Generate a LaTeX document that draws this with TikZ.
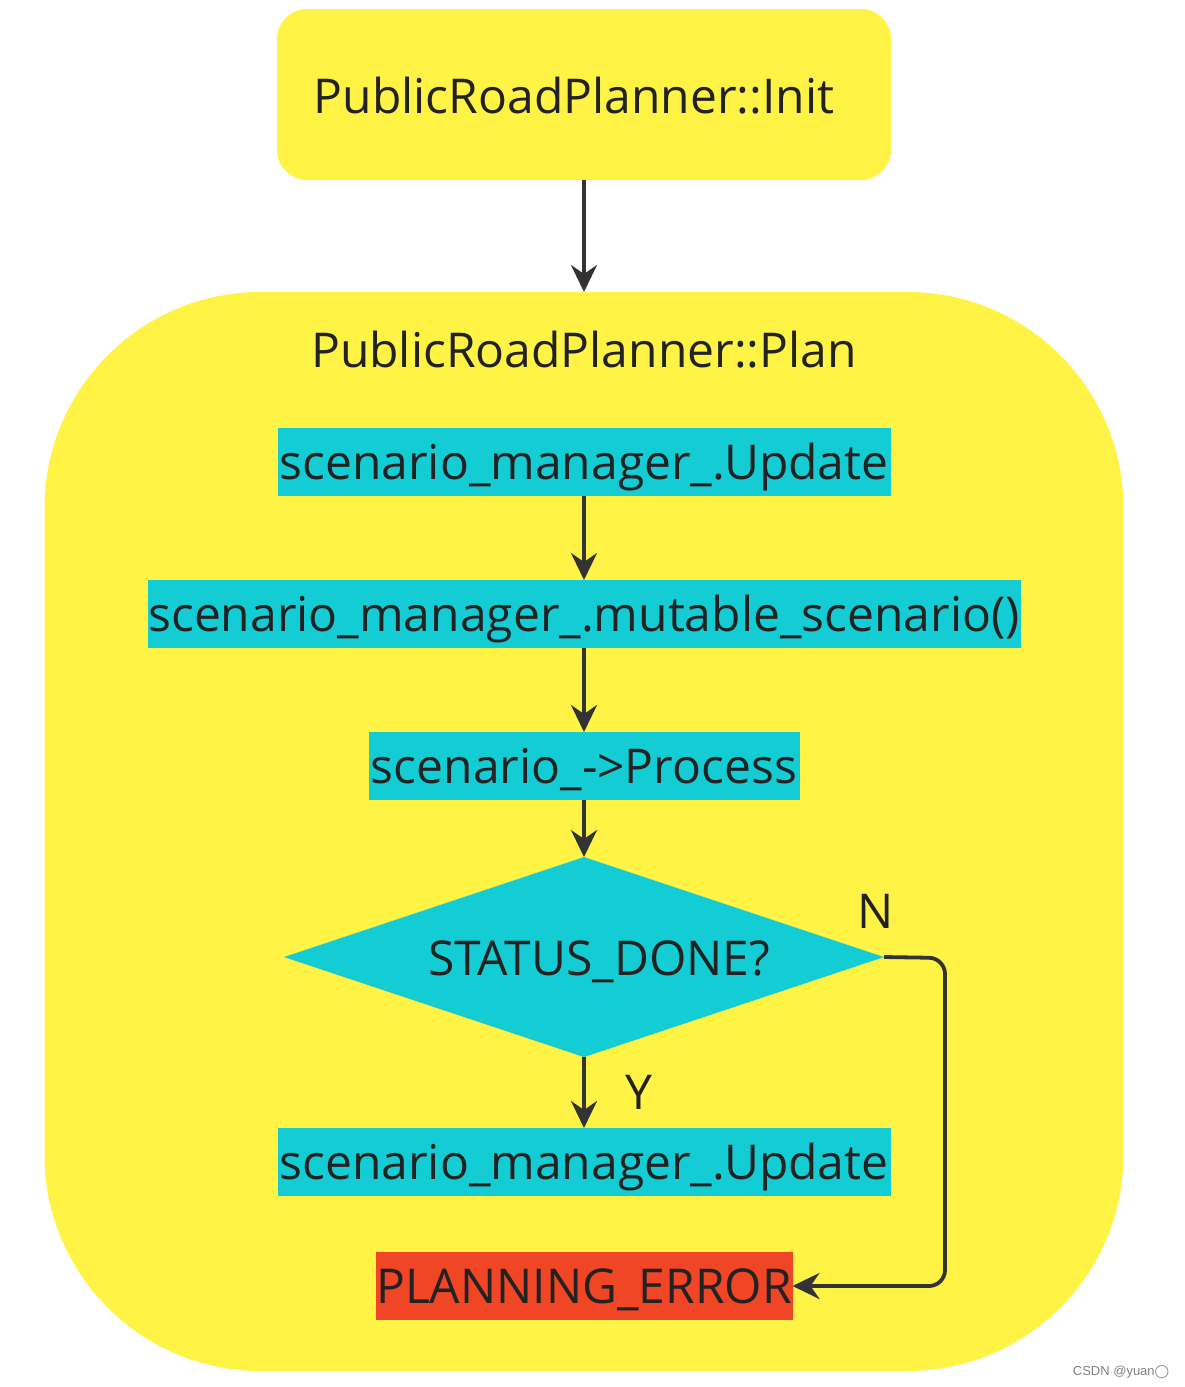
\documentclass[tikz,border=0pt]{standalone}
\usepackage{fontspec}
\setmainfont{Open Sans}
\newfontfamily\markfont{Liberation Sans}
\newfontfamily\symfont{DejaVu Sans}
\usetikzlibrary{shapes.geometric,arrows.meta}
\definecolor{planyellow}{RGB}{255,243,69}
\definecolor{callcyan}{RGB}{20,205,212}
\definecolor{errred}{RGB}{240,70,38}
\definecolor{inkgray}{RGB}{34,34,34}
\definecolor{linegray}{RGB}{51,51,51}
\tikzset{every picture/.style={line width=0.75pt}}

\begin{document}
\begin{tikzpicture}[x=0.5pt,y=0.5pt,yscale=-1,xscale=1,
  txt/.style={text=inkgray,font=\fontsize{24}{28}\selectfont,inner sep=0pt,outer sep=0pt},
  callbox/.style={txt,fill=callcyan,minimum height=34pt,text height=17pt,text depth=0pt},
  flow/.style={draw=linegray,line width=1.9pt,-{Stealth[length=13.5pt,width=13pt,inset=4.5pt]}}]
\useasboundingbox (0,0) rectangle (1184,1387);

%Shape: Rounded Rect [id:plan]
\node (plan) [fill=planyellow,rounded corners=108pt,minimum width=539.5pt,minimum height=539.5pt,inner sep=0pt,outer sep=0pt] at (584,831.5) {};
%Shape: Rounded Rect [id:init]
\node (init) [txt,fill=planyellow,rounded corners=15pt,minimum width=307pt,minimum height=85.5pt,text height=18.5pt,text depth=0pt] at (584,94.5) {PublicRoadPlanner::Init\rule{10pt}{0pt}};

% Text Node
\node (plantitle) [txt,anchor=base] at (584,367) {PublicRoadPlanner::Plan};

%Shape: Rectangle [id:calls]
\node (upd1) [callbox,minimum width=306.5pt] at (584,462) {scenario\_manager\_.Update};
\node (mut) [callbox,minimum width=436.5pt] at (584,614) {scenario\_manager\_.mutable\_scenario()};
\node (proc) [callbox,minimum width=215.5pt] at (584,766) {scenario\_->Process};
%Shape: Diamond [id:dec]
\node (dec) [shape=diamond,fill=callcyan,minimum width=300pt,minimum height=100pt,inner sep=0pt,outer sep=0pt] at (584,957) {};
\node (dectext) [txt,anchor=base] at (599,975) {STATUS\_DONE?};
\node (upd2) [callbox,minimum width=306.5pt] at (584,1162) {scenario\_manager\_.Update};
\node (err) [callbox,fill=errred,minimum width=208.5pt] at (584,1286) {PLANNING\_ERROR};

%Straight Lines
\draw [flow] (init.south) -- (plan.north);
\draw [flow] (upd1.south) -- (mut.north);
\draw [flow] (mut.south) -- (proc.north);
\draw [flow] (proc.south) -- (dec.north);
\draw [flow] (dec.south) -- (upd2.north);
%Curve Lines
\coordinate (nbend) at (945,958);
\draw [flow,rounded corners=8pt] (dec.east) -- (nbend) |- (err.east);

% Text Node
\node (ylabel) [txt,anchor=base] at (639,1109) {Y};
\node (nlabel) [txt,anchor=base] at (876,928) {N};
% Text Node
\node (mark) [anchor=base east,inner sep=0pt,text=gray,font=\markfont\fontsize{6.5}{8}\selectfont] at (1170,1375) {CSDN @yuan{\symfont ◯}};

\end{tikzpicture}
\end{document}
